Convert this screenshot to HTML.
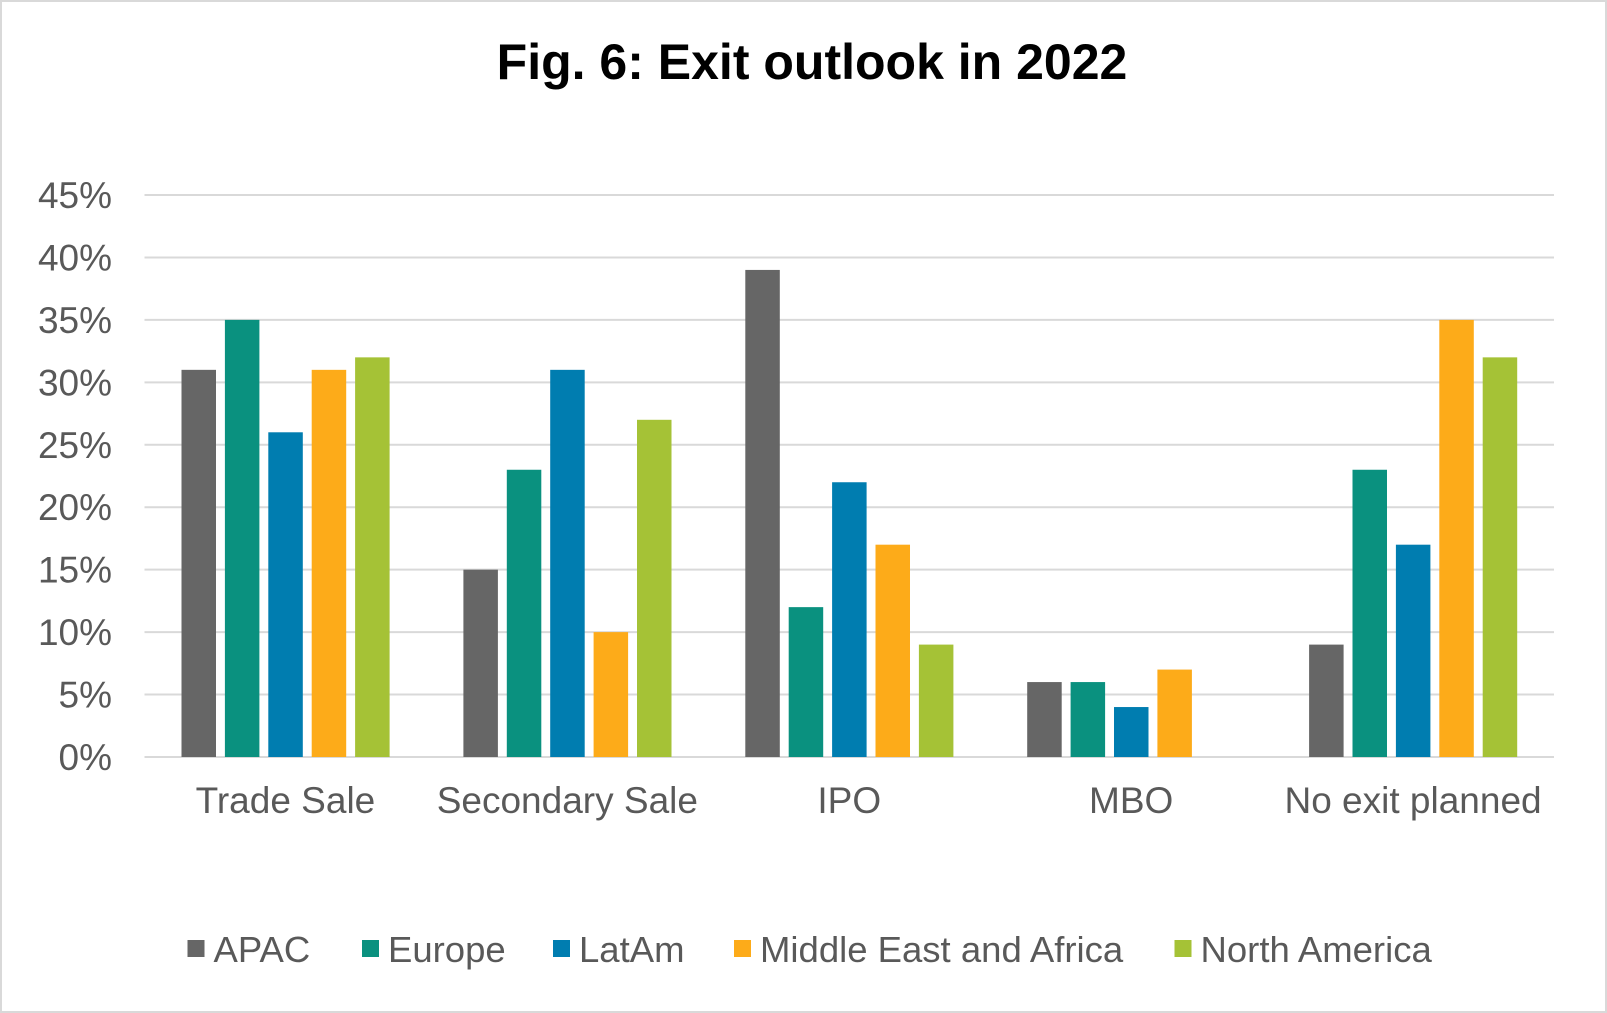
<!DOCTYPE html>
<html><head><meta charset="utf-8"><style>
body{margin:0;background:#fff;}
svg{display:block;font-family:"Liberation Sans",Arial,sans-serif;}
</style></head><body>
<svg id="chart" width="1607" height="1013" viewBox="0 0 1607 1013">
<rect x="1" y="1" width="1605" height="1011" fill="#fff" stroke="#d9d9d9" stroke-width="2"/>
<text x="812" y="79" text-anchor="middle" font-size="50" font-weight="bold" fill="#000">Fig. 6: Exit outlook in 2022</text>
<g id="grid"></g><g id="bars"></g><g id="xlabels"></g><g id="legend"></g>
</svg>
<script>
const categories=["Trade Sale","Secondary Sale","IPO","MBO","No exit planned"];
const series=["APAC","Europe","LatAm","Middle East and Africa","North America"];
const apac=[31,15,39,6,9];
const europe=[35,23,12,6,23];
const latam=[26,31,22,4,17];
const mea=[31,10,17,7,35];
const northAmerica=[32,27,9,0,32];
const yTicks=[0,5,10,15,20,25,30,35,40,45];
const colors=["#666666","#0a917f","#007db0","#fdab19","#a5c236"];
const values=[apac,europe,latam,mea,northAmerica];
const NS="http://www.w3.org/2000/svg";
const x0=144.5,x1=1554,y0=757,yTop=195,yMax=45;
const y=v=>y0-(v/yMax)*(y0-yTop);
const catW=(x1-x0)/categories.length;
const barW=34.5,step=43.4,offset=37;
function mk(t,a,p){const e=document.createElementNS(NS,t);for(const k in a)e.setAttribute(k,a[k]);p.appendChild(e);return e;}
const grid=document.getElementById('grid');
yTicks.forEach(t=>{
  const l=mk('line',{x1:x0,x2:x1,y1:y(t),y2:y(t),stroke:'#d9d9d9','stroke-width':2},grid);
  
  
  const tx=mk('text',{x:112,y:y(t)+13,'text-anchor':'end','font-size':37,fill:'#595959'},grid);
  tx.textContent=t+'%';
  
  
});
const bars=document.getElementById('bars');
categories.forEach((c,i)=>{
  values.forEach((arr,s)=>{
    const v=arr[i];
    const r=mk('rect',{x:x0+i*catW+offset+s*step,y:y(v),width:barW,height:y0-y(v),fill:colors[s]},bars);
    
    
  });
  const tx=mk('text',{x:x0+i*catW+catW/2,y:813,'text-anchor':'middle','font-size':37,fill:'#595959'},document.getElementById('xlabels'));
  tx.textContent=c;
  
  
});
const legX=[187.5,362,553,734,1174.5];
const leg=document.getElementById('legend');
series.forEach((s,i)=>{
  const g=mk('g',{},leg);
  
  
  mk('rect',{x:legX[i],y:940,width:17,height:17,fill:colors[i]},g);
  const t=mk('text',{x:legX[i]+26,y:962,'font-size':36.5,fill:'#595959'},g);
  t.textContent=s;
});
</script>
</body></html>
